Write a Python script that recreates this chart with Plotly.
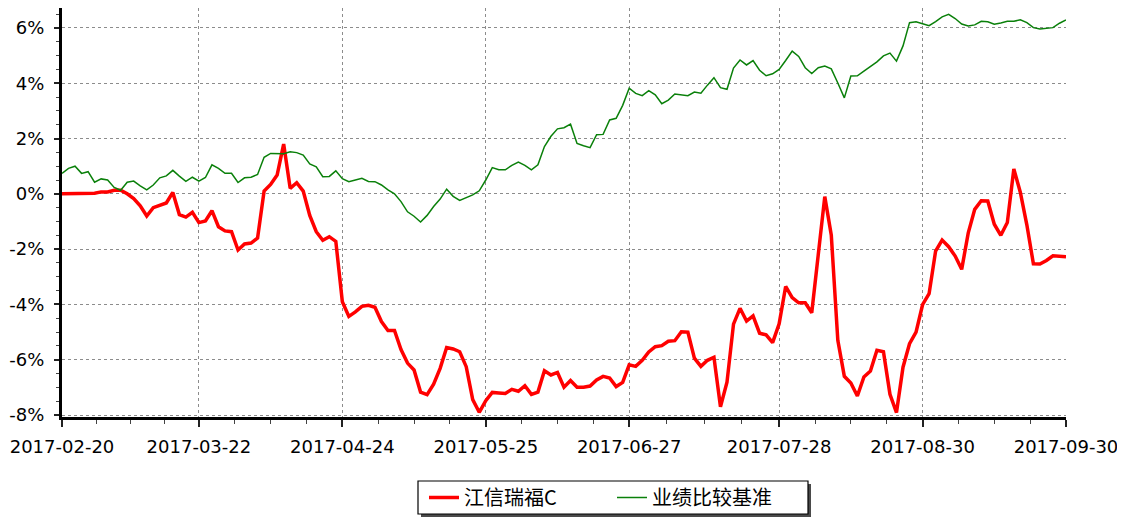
import plotly.graph_objects as go

# ---- data (percent returns, one value per trading day) ----
tick_labels = ["2017-02-20", "2017-03-22", "2017-04-24", "2017-05-25",
               "2017-06-27", "2017-07-28", "2017-08-30", "2017-09-30"]
tick_index = [0, 21, 43, 65, 87, 110, 132, 154]

fund_name = "江信瑞福C"
bench_name = "业绩比较基准"

fund = [
    0, 0, 0, 0, 0, 0.02, 0.07, 0.07, 0.13, 0.13,
    0.0, -0.17, -0.43, -0.80, -0.50, -0.40, -0.33, 0.05, -0.75, -0.84,
    -0.67, -1.04, -0.98, -0.61, -1.19, -1.34, -1.37, -2.03, -1.81, -1.78,
    -1.60, 0.10, 0.34, 0.68, 1.80, 0.20, 0.40, 0.10, -0.78, -1.37,
    -1.68, -1.55, -1.72, -3.90, -4.43, -4.27, -4.07, -4.03, -4.10, -4.62,
    -4.94, -4.94, -5.63, -6.12, -6.37, -7.17, -7.26, -6.88, -6.31, -5.56,
    -5.61, -5.71, -6.25, -7.44, -7.90, -7.48, -7.18, -7.20, -7.22, -7.07,
    -7.14, -6.94, -7.25, -7.17, -6.40, -6.55, -6.46, -6.99, -6.75, -6.99,
    -6.99, -6.95, -6.73, -6.60, -6.66, -6.97, -6.82, -6.18, -6.24, -6.02,
    -5.72, -5.53, -5.49, -5.33, -5.31, -4.99, -5.00, -5.94, -6.24, -6.02,
    -5.91, -7.70, -6.81, -4.71, -4.14, -4.60, -4.41, -5.04, -5.10, -5.38,
    -4.70, -3.35, -3.75, -3.94, -3.94, -4.30, -2.30, -0.10, -1.50, -5.30,
    -6.60, -6.84, -7.31, -6.62, -6.41, -5.66, -5.71, -7.25, -7.91, -6.27,
    -5.42, -5.00, -4.01, -3.61, -2.07, -1.67, -1.91, -2.25, -2.73, -1.42,
    -0.56, -0.25, -0.26, -1.10, -1.50, -1.04, 0.90, 0.05, -1.13, -2.53,
    -2.54, -2.41, -2.24, -2.27, -2.28,
]

bench = [
    0.74, 0.92, 1.00, 0.74, 0.80, 0.42, 0.54, 0.50, 0.23, 0.13,
    0.42, 0.46, 0.29, 0.14, 0.32, 0.58, 0.65, 0.85, 0.64, 0.45,
    0.60, 0.46, 0.59, 1.05, 0.92, 0.74, 0.74, 0.41, 0.58, 0.60,
    0.70, 1.32, 1.46, 1.46, 1.45, 1.52, 1.49, 1.40, 1.08, 0.98,
    0.62, 0.63, 0.83, 0.55, 0.44, 0.50, 0.56, 0.45, 0.44, 0.32,
    0.14, 0.00, -0.28, -0.65, -0.81, -1.02, -0.78, -0.46, -0.19, 0.17,
    -0.09, -0.24, -0.15, -0.04, 0.11, 0.50, 0.95, 0.87, 0.87, 1.03,
    1.15, 1.03, 0.87, 1.05, 1.71, 2.08, 2.35, 2.39, 2.52, 1.82,
    1.74, 1.67, 2.14, 2.15, 2.67, 2.73, 3.20, 3.82, 3.63, 3.55,
    3.73, 3.58, 3.26, 3.39, 3.61, 3.57, 3.55, 3.68, 3.64, 3.93,
    4.20, 3.84, 3.78, 4.55, 4.84, 4.66, 4.82, 4.47, 4.27, 4.34,
    4.50, 4.82, 5.16, 4.97, 4.56, 4.35, 4.56, 4.62, 4.52, 4.01,
    3.47, 4.26, 4.27, 4.44, 4.59, 4.77, 4.99, 5.09, 4.80, 5.35,
    6.19, 6.22, 6.15, 6.08, 6.23, 6.40, 6.49, 6.34, 6.14, 6.07,
    6.11, 6.24, 6.22, 6.13, 6.18, 6.24, 6.24, 6.29, 6.19, 6.01,
    5.96, 5.99, 6.01, 6.17, 6.29,
]

y_ticks = [-8, -6, -4, -2, 0, 2, 4, 6]
y_ticktext = [f"{v}%" for v in y_ticks]

x = list(range(len(fund)))

# minor ticks: quarters between major x ticks, every 0.5% on y
x_minor = []
for a, b in zip(tick_index[:-1], tick_index[1:]):
    for q in (1, 2, 3):
        x_minor.append(a + (b - a) * q / 4)
y_minor = [v / 2 for v in range(-16, 14)]

# the page body has an 8px margin, so the figure is sized to fill the rest
OFF = 8
W, H = 1125 - OFF, 519 - OFF
ML, MR, MT, MB = 62 - OFF, 59, 8 - OFF, 102
PW, PH = W - ML - MR, H - MT - MB


def px_x(p):  # page pixel -> paper x
    return (p - OFF - ML) / PW


def px_y(p):  # page pixel -> paper y
    return (H - MB - (p - OFF)) / PH


# legend frame (page pixel box) and its drop shadow
box = (418, 481, 808, 514)
sh = 3

fig = go.Figure()
fig.add_trace(go.Scatter(x=x, y=fund, mode="lines", name=fund_name,
                         line=dict(color="#FF0000", width=3.5)))
fig.add_trace(go.Scatter(x=x, y=bench, mode="lines", name=bench_name,
                         line=dict(color="#0A800A", width=1.5)))

tick_font = dict(family="DejaVu Sans, Arial, sans-serif", size=18, color="#000000")

fig.add_shape(type="rect", xref="paper", yref="paper",
              x0=px_x(box[0] + sh), x1=px_x(box[2] + sh),
              y0=px_y(box[3] + sh), y1=px_y(box[1] + sh),
              fillcolor="#4a4a4a", line=dict(width=0), layer="below")
fig.add_shape(type="rect", xref="paper", yref="paper",
              x0=px_x(box[0]), x1=px_x(box[2]),
              y0=px_y(box[3]), y1=px_y(box[1]),
              fillcolor="white", line=dict(color="#000000", width=1.2), layer="below")

fig.update_layout(
    width=W, height=H,
    margin=dict(l=ML, r=MR, t=MT, b=MB, pad=0, autoexpand=False),
    paper_bgcolor="white", plot_bgcolor="white",
    showlegend=True,
    legend=dict(
        orientation="h",
        xref="container", yref="container",
        x=(box[0] + 6 - OFF) / W, xanchor="left",
        y=1 - ((box[1] + box[3]) / 2 - OFF) / H, yanchor="middle",
        bgcolor="rgba(0,0,0,0)", borderwidth=0,
        font=dict(family="Noto Sans CJK SC, sans-serif", size=20, color="#000000"),
        entrywidth=143,
        itemwidth=30,
    ),
    xaxis=dict(
        range=[0, len(fund) - 1], automargin=False,
        tickmode="array", tickvals=tick_index, ticktext=tick_labels,
        ticks="outside", ticklen=7, tickwidth=1.5, tickcolor="#222222",
        tickfont=tick_font, ticklabelstandoff=4,
        showline=True, linecolor="#000000", linewidth=3,
        showgrid=True, gridcolor="#8c8c8c", gridwidth=1, griddash="dot",
        zeroline=False,
        minor=dict(tickmode="array", tickvals=x_minor, ticks="outside",
                   ticklen=4, tickwidth=1, tickcolor="#444444", showgrid=False),
    ),
    yaxis=dict(
        range=[-8.07, 6.72], automargin=False,
        tickmode="array", tickvals=y_ticks, ticktext=y_ticktext,
        ticks="outside", ticklen=5, tickwidth=1.5, tickcolor="#222222",
        tickfont=tick_font, ticklabelstandoff=6,
        showline=True, linecolor="#000000", linewidth=3,
        showgrid=True, gridcolor="#8c8c8c", gridwidth=1, griddash="dot",
        zeroline=False,
        minor=dict(tickmode="array", tickvals=y_minor, ticks="outside",
                   ticklen=3, tickwidth=1, tickcolor="#444444", showgrid=False),
    ),
)

fig.write_html("out.html")
